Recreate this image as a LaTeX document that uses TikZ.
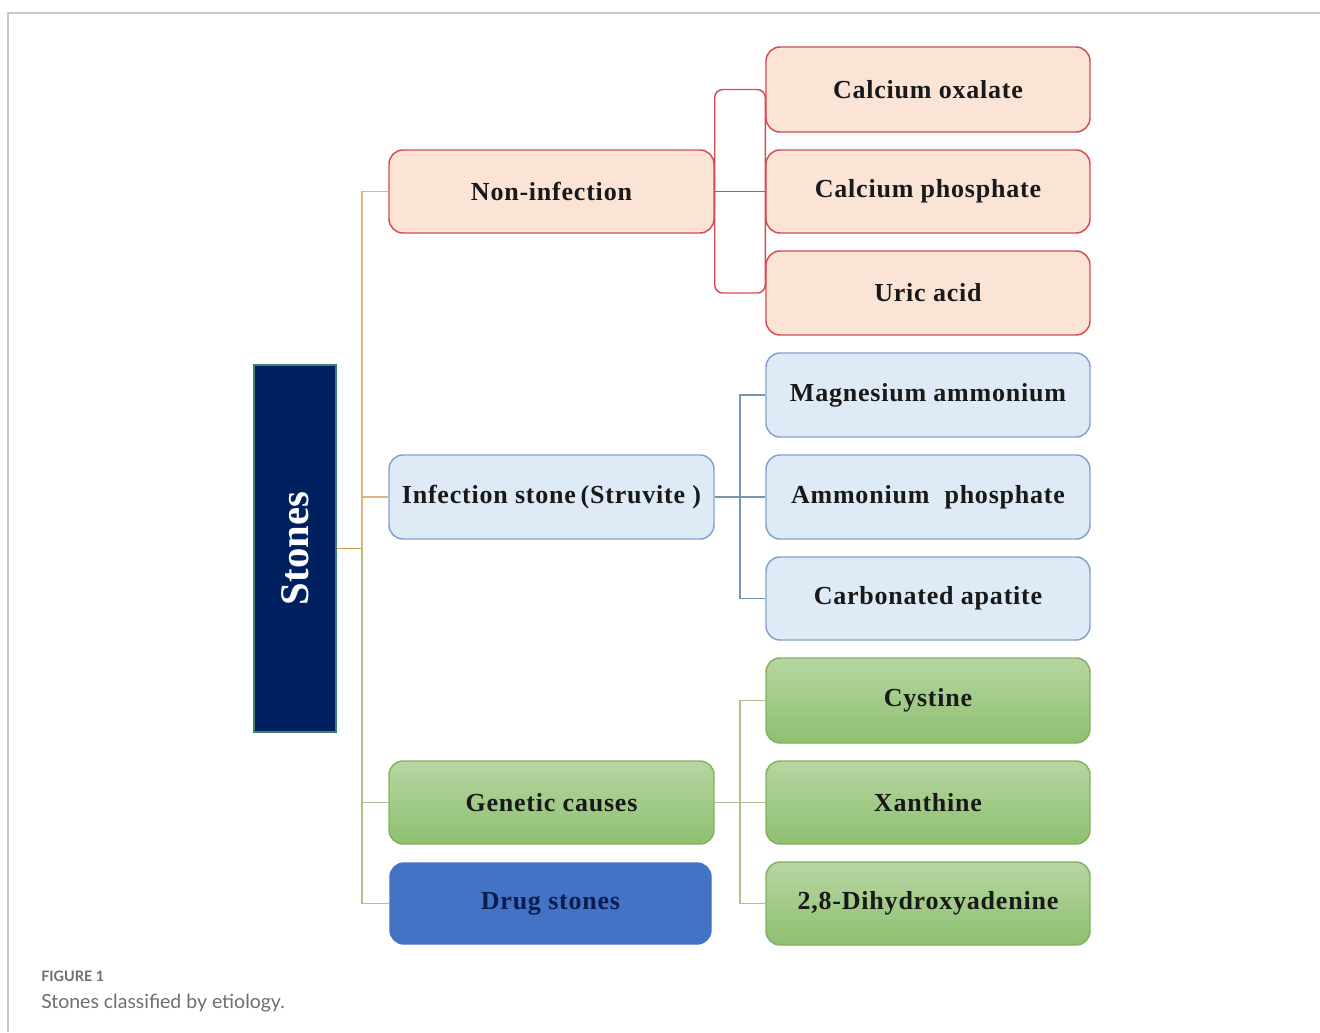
\documentclass[tikz,border=0pt]{standalone}
\usepackage{fontspec}
\setmainfont{Liberation Serif}
\newfontfamily\boxfont{Liberation Serif}[LetterSpace=3]
\newfontfamily\capfont{Lato}
\definecolor{redB}{RGB}{214,74,84}
\definecolor{redF}{RGB}{251,227,214}
\definecolor{bluB}{RGB}{130,160,205}
\definecolor{bluF}{RGB}{222,235,247}
\definecolor{grnB}{RGB}{130,176,96}
\definecolor{grnT}{RGB}{182,214,162}
\definecolor{grnBot}{RGB}{142,192,112}
\definecolor{drugF}{RGB}{68,114,196}
\definecolor{drugT}{RGB}{10,28,80}
\definecolor{navy}{RGB}{0,32,96}
\definecolor{navyB}{RGB}{60,130,110}
\definecolor{tanL}{RGB}{222,180,136}
\definecolor{goldL}{RGB}{200,160,80}
\definecolor{grnL}{RGB}{168,196,140}
\definecolor{bluL}{RGB}{120,150,180}
\definecolor{frameC}{RGB}{200,200,200}
\definecolor{capC}{RGB}{110,110,110}
\begin{document}
\begin{tikzpicture}[x=0.75pt,y=-0.75pt,
  base/.style={rounded corners=10.5pt, line width=1.1pt, align=center,
    font=\boxfont\bfseries\fontsize{19.5}{21}\selectfont, text=black!90, inner sep=0pt},
  big/.style={base, minimum width=243.75pt},
  small/.style={base, minimum width=243pt},
  redbox/.style={draw=redB, fill=redF},
  blubox/.style={draw=bluB, fill=bluF},
  grnbox/.style={draw=grnB, top color=grnT, bottom color=grnBot},
  rline/.style={draw=redB, line width=1.1pt},
  bline/.style={draw=bluL, line width=1.1pt},
  gline/.style={draw=grnL, line width=1.1pt},
  tline/.style={draw=tanL, line width=1.1pt}
]
\useasboundingbox (0,0) rectangle (1320,1032);
% frame
\draw[frameC, line width=1.2pt] (8,1032) -- (8,13) -- (1320,13);

% root
\node[draw=navyB, line width=0.8pt, fill=navy, minimum width=61.5pt, minimum height=275.25pt, inner sep=0pt] (stones) at (295,548.5) {};
\node[rotate=90, text=white, font=\bfseries\fontsize{30.5}{32}\selectfont] (stonesT) at (stones.center) {Stones};

% level 1
\node[big, redbox, minimum height=62.25pt] (non) at (551.5,191.5) {Non-infection};
\node[big, blubox, minimum height=63pt] (inf) at (551.5,497) {Infection stone\hspace{-0.1em} (Struvite\ )};
\node[big, grnbox, minimum height=62.25pt] (gen) at (551.5,802.5) {Genetic causes};
\node[base, draw=drugF, fill=drugF, text=drugT, minimum width=240.75pt, minimum height=60.75pt] (drug) at (550.5,903.5) {Drug stones};

% level 2
\node[small, redbox, minimum height=63.75pt] (co) at (928,89.5) {Calcium oxalate};
\node[small, redbox, minimum height=62.25pt] (cp) at (928,191.5) {Calcium phosphate};
\node[small, redbox, minimum height=63pt] (ua) at (928,293) {Uric acid};
\node[small, blubox, minimum height=63pt] (ma) at (928,395) {Magnesium ammonium};
\node[small, blubox, minimum height=63pt] (ap) at (928,497) {Ammonium\hspace{0.3em} phosphate};
\node[small, blubox, minimum height=62.25pt] (ca) at (928,598.5) {Carbonated apatite};
\node[small, grnbox, minimum height=63.75pt] (cy) at (928,700.5) {Cystine};
\node[small, grnbox, minimum height=62.25pt] (xa) at (928,802.5) {Xanthine};
\node[small, grnbox, minimum height=62.25pt] (dh) at (928,903.5) {2,8-Dihydroxyadenine};

% root connectors
\coordinate (tr) at (362,548.5);
\draw[goldL, line width=1.1pt] (stones.east) -- (tr);
\draw[tline] (tr) |- (non.west);
\draw[tline] (tr) |- (inf.west);
\draw[gline] (tr) |- (gen.west);
\draw[gline] (tr) |- (drug.west);

% non-infection connectors
\draw[rline, rounded corners=6pt] (non.east) -- (non.east |- co.west) -- (co.west) -- (ua.west) -- (non.east |- ua.west) -- cycle;
\draw[rline] (non.east) -- (cp.west);

% infection connectors
\coordinate (bj) at (740,497);
\draw[bline] (inf.east) -- (ap.west);
\draw[bline] (bj) |- (ma.west);
\draw[bline] (bj) |- (ca.west);

% genetic connectors
\coordinate (gj) at (740,802.5);
\draw[gline] (gen.east) -- (xa.west);
\draw[gline] (gj) |- (cy.west);
\draw[gline] (gj) |- (dh.west);

% caption
\node[anchor=base west, inner sep=0pt, text=capC, font=\capfont\bfseries\fontsize{10.8}{12}\selectfont] (figlab) at (41,981) {FIGURE 1};
\node[anchor=base west, inner sep=0pt, text=capC, font=\capfont\fontsize{14.6}{17}\selectfont] (figcap) at (41,1008) {Stones classified by etiology.};
\end{tikzpicture}
\end{document}
